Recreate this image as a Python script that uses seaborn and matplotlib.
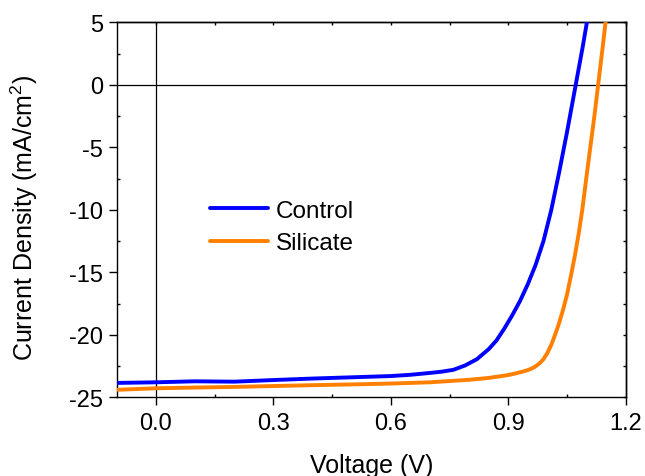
import numpy as np
import pandas as pd
import matplotlib
matplotlib.use("Agg")
import matplotlib.pyplot as plt
from matplotlib.ticker import MultipleLocator, FormatStrFormatter
import seaborn as sns

# ---- data ----
V_control = [-0.1, 0.0, 0.1, 0.2, 0.3, 0.4, 0.5, 0.6, 0.65, 0.7, 0.73, 0.76, 0.79,
             0.82, 0.85, 0.87, 0.89, 0.91, 0.93, 0.95, 0.97, 0.99, 1.01, 1.03,
             1.05, 1.07, 1.09, 1.102]
J_control = [-23.85, -23.8, -23.72, -23.75, -23.62, -23.5, -23.4, -23.3, -23.2,
             -23.05, -22.95, -22.8, -22.45, -21.95, -21.15, -20.45, -19.5, -18.45,
             -17.3, -15.95, -14.4, -12.5, -10.0, -7.0, -3.8, -0.4, 3.0, 5.2]
V_silicate = [-0.1, 0.0, 0.1, 0.2, 0.3, 0.4, 0.5, 0.6, 0.7, 0.8, 0.85, 0.9, 0.92,
              0.94, 0.95, 0.96, 0.97, 0.98, 0.99, 1.0, 1.01, 1.02, 1.03, 1.04, 1.05,
              1.06, 1.07, 1.08, 1.09, 1.10, 1.11, 1.12, 1.13, 1.14, 1.15]
J_silicate = [-24.4, -24.28, -24.22, -24.17, -24.1, -24.03, -23.97, -23.9, -23.8,
              -23.6, -23.45, -23.22, -23.08, -22.92, -22.82, -22.7, -22.52, -22.28,
              -21.95, -21.45, -20.8, -19.97, -19.05, -18.0, -16.8, -15.3, -13.7,
              -11.9, -9.8, -7.3, -4.9, -2.5, 0.1, 2.7, 5.4]
series_names = ["Control", "Silicate"]
series_colors = ["#0000FF", "#FF7F00"]
x_ticks = [0.0, 0.3, 0.6, 0.9, 1.2]
y_ticks = [-25, -20, -15, -10, -5, 0, 5]

df = pd.concat([
    pd.DataFrame({"V": V_control, "J": J_control, "Sample": series_names[0]}),
    pd.DataFrame({"V": V_silicate, "J": J_silicate, "Sample": series_names[1]}),
], ignore_index=True)

sns.set_theme(style="ticks")
plt.rcParams["font.family"] = ["Liberation Sans", "DejaVu Sans"]
plt.rcParams["mathtext.default"] = "regular"
plt.rcParams["axes.unicode_minus"] = False
for k in ("text.color", "axes.labelcolor", "xtick.color", "ytick.color",
          "axes.edgecolor"):
    plt.rcParams[k] = "black"

W, H = 645, 477
fig = plt.figure(figsize=(W / 100, H / 100), dpi=100)
L, R, T, B = 116.7, 625.7, 23.3, 398.3
ax = fig.add_axes([L / W, 1 - B / H, (R - L) / W, (B - T) / H])

ax.axhline(0, color="black", lw=0.9, zorder=1)
ax.axvline(0, color="black", lw=0.9, zorder=1)

sns.lineplot(data=df, x="V", y="J", hue="Sample", palette=series_colors,
             hue_order=series_names, estimator=None, sort=False, lw=2.8,
             ax=ax, zorder=3)
for ln in ax.get_lines():
    ln.set_solid_joinstyle("round")

ax.set_xlim(-0.1, 1.2)
ax.set_ylim(-25, 5)
ax.set_xticks(x_ticks)
ax.set_yticks(y_ticks)
ax.xaxis.set_major_formatter(FormatStrFormatter("%.1f"))
ax.xaxis.set_minor_locator(MultipleLocator(0.15))
ax.yaxis.set_minor_locator(MultipleLocator(2.5))

for s in ax.spines.values():
    s.set_linewidth(1.0)
    s.set_color("black")

ax.tick_params(which="major", direction="out", length=5.5, width=1.0,
               labelsize=17, pad=5, colors="black")
ax.tick_params(axis="y", which="major", pad=4.5)
ax.tick_params(which="minor", direction="in", length=2.5, width=1.0, color="black")

sx = ax.secondary_xaxis("top")
sx.set_xticks(x_ticks)
sx.xaxis.set_minor_locator(MultipleLocator(0.15))
sx.tick_params(which="both", direction="in", length=2.5, width=1.0,
               labeltop=False, color="black")
sy = ax.secondary_yaxis("right")
sy.set_yticks(y_ticks)
sy.yaxis.set_minor_locator(MultipleLocator(2.5))
sy.tick_params(which="both", direction="in", length=2.5, width=1.0,
               labelright=False, color="black")
for a in (sx, sy):
    for s in a.spines.values():
        s.set_linewidth(1.0)

ax.set_xlabel("Voltage (V)", fontsize=18, color="black")
ax.set_ylabel("Current Density (mA/cm$^2$)", fontsize=18, color="black")
ax.xaxis.set_label_coords(0.5, -(454 - B) / (B - T))
ax.yaxis.set_label_coords(-(L - 40) / (R - L), 0.482)

handles, labels = ax.get_legend_handles_labels()
leg = ax.legend(handles, labels, loc="center left",
                bbox_to_anchor=((210 - L) / (R - L), 1 - (228 - T) / (B - T)),
                frameon=False, fontsize=17.5, handlelength=2.4, handletextpad=0.3,
                labelspacing=0.43, borderpad=0, borderaxespad=0)
for t in leg.get_texts():
    t.set_color("black")

fig.savefig("out.png", dpi=100)
